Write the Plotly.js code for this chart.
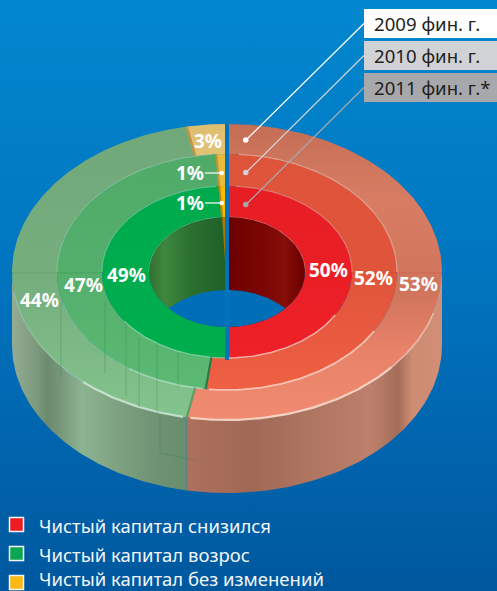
<!DOCTYPE html>
<html><head><meta charset="utf-8">
<script src="https://cdn.plot.ly/plotly-3.0.1.min.js"></script>
<style>
html,body{margin:0;padding:0;width:497px;height:591px;overflow:hidden;
background:linear-gradient(180deg,#0287CE 0%,#0178C2 40%,#0167B1 70%,#00589E 100%);}
#c{width:497px;height:591px}
</style></head><body><div id="c"></div>
<script>
// ---- data (outer ring first) ----
const years = ['2009 фин. г.', '2010 фин. г.', '2011 фин. г.*'];
const decreased = [53, 52, 50];
const increased = [44, 47, 49];
const unchanged = [3, 1, 1];
const legendLabels = ['Чистый капитал снизился', 'Чистый капитал возрос', 'Чистый капитал без изменений'];

// ---- geometry of the tilted ring ----
const CX = 227, CY = 272, DEPTH = 73;
const RX = [215, 170, 125, 78], RY = [148, 118, 86, 55];
const pt = (t, r, dy) => {
  const a = t * Math.PI / 180;
  return [CX + RX[r] * Math.sin(a), CY + dy - RY[r] * Math.cos(a)];
};
function arc(t0, t1, r, dy) {
  const n = Math.max(2, Math.ceil(Math.abs(t1 - t0)));
  const p = [];
  for (let i = 0; i <= n; i++) p.push(pt(t0 + (t1 - t0) * i / n, r, dy));
  return p;
}
const rgb = a => `rgb(${a[0]},${a[1]},${a[2]})`;
function grad(type, stops) {
  const a = stops[0][0], b = stops[stops.length - 1][0];
  return {type, start: a, stop: b,
    colorscale: stops.map(s => [(s[0] - a) / (b - a), rgb(s[1])])};
}
const traces = [];
function poly(p, gradient, color) {
  const tr = {x: p.map(q => q[0]).concat(p[0][0]), y: p.map(q => q[1]).concat(p[0][1]),
    mode: 'lines', fill: 'toself', line: {width: 0}, hoverinfo: 'skip', showlegend: false};
  if (gradient) tr.fillgradient = gradient; else tr.fillcolor = color;
  traces.push(tr);
}
function stroke(p, color, width) {
  traces.push({x: p.map(q => q[0]), y: p.map(q => q[1]), mode: 'lines',
    line: {color, width}, hoverinfo: 'skip', showlegend: false});
}
const pct = v => v * 3.6;

// ---- outer side wall ----
const redEnd0 = pct(decreased[0]);
poly(arc(90, redEnd0, 0, 0).concat(arc(redEnd0, 90, 0, DEPTH)),
  grad('horizontal', [[190, [172,112,92]], [250, [160,105,85]], [300, [172,115,95]], [370, [188,128,108]],
    [385, [176,120,100]], [398, [164,108,88]], [412, [205,140,115]], [442, [210,142,118]]]));
poly(arc(redEnd0, 270, 0, 0).concat(arc(270, redEnd0, 0, DEPTH)),
  grad('horizontal', [[12, [148,172,148]], [35, [125,155,125]], [48, [108,138,110]], [60, [118,150,122]],
    [82, [140,180,145]], [120, [125,160,128]], [160, [110,145,115]], [190, [104,140,110]]]));

// ---- top faces ----
const redFace = [
  [[124, [196,110,86]], [200, [216,125,100]], [290, [208,116,92]], [350, [232,130,105]], [420, [240,138,112]]],
  [[154, [222,84,58]], [270, [224,84,58]], [390, [238,96,68]]],
  [[186, [230,30,36]], [358, [238,32,40]]]];
const greenFace = [
  [[124, [112,168,122]], [280, [118,174,126]], [420, [132,196,142]]],
  [[154, [80,170,104]], [280, [84,176,108]], [390, [92,186,116]]],
  [[186, [0,170,76]], [358, [0,174,78]]]];
const yellowFace = [
  [[124, [222,190,112]], [155, [226,194,116]]],
  [[154, [232,186,62]], [186, [236,186,60]]],
  [[186, [250,186,0]], [220, [250,186,0]]]];

years.forEach((_, r) => {
  const a = pct(decreased[r]), b = 360 - pct(unchanged[r]);
  const ring = (t0, t1) => arc(t0, t1, r, 0).concat(arc(t1, t0, r + 1, 0));
  poly(ring(a, b), grad('vertical', greenFace[r]));
  poly(ring(0, a), grad('vertical', redFace[r]));
  poly(ring(b, 360), grad('vertical', yellowFace[r]));
});

// ---- ring separators and highlights ----
stroke(arc(4, 90, 1, 0), 'rgba(255,215,195,0.5)', 1.2);
stroke(arc(4, 90, 2, 0), 'rgba(255,200,180,0.45)', 1.1);
stroke(arc(2, 90, 3, 0), 'rgba(255,190,170,0.45)', 1.1);
stroke(arc(270, 355, 1, 0), 'rgba(210,240,215,0.4)', 1);
stroke(arc(270, 355, 2, 0), 'rgba(200,240,210,0.4)', 1);
stroke(arc(270, 356, 3, 0), 'rgba(190,235,200,0.5)', 1);
stroke(arc(92, 106, 0, 0), 'rgba(255,225,210,0.25)', 1.2);
stroke(arc(106, 130, 0, 0), 'rgba(255,225,210,0.6)', 1.6);
stroke(arc(130, pct(decreased[0]) - 1, 0, 0), 'rgba(255,225,210,0.85)', 2.2);
stroke(arc(pct(decreased[0]) + 1, 222, 0, 0), 'rgba(220,240,225,0.75)', 2.2);
stroke(arc(222, 262, 0, 0), 'rgba(215,240,220,0.35)', 1.2);
stroke(arc(120, pct(decreased[1]) - 1, 1, 0), 'rgba(255,215,200,0.8)', 1.8);
stroke(arc(pct(decreased[1]) + 1, 215, 1, 0), 'rgba(205,240,215,0.6)', 1.6);
stroke(arc(215, 255, 1, 0), 'rgba(205,240,215,0.3)', 1);
stroke(arc(120, pct(decreased[2]), 2, 0), 'rgba(255,215,205,0.75)', 1.4);
stroke(arc(180, 235, 2, 0), 'rgba(195,240,205,0.55)', 1.2);

// ---- cut edges between slices ----
stroke([pt(pct(decreased[0]), 0, 0), pt(pct(decreased[0]), 1, 0)], 'rgb(96,156,104)', 2.2);
stroke([pt(pct(decreased[1]), 1, 0), pt(pct(decreased[1]), 2, 0)], 'rgb(45,120,70)', 2.2);
stroke([pt(360 - pct(unchanged[0]), 0, 0), pt(360 - pct(unchanged[0]), 1, 0)], 'rgb(190,150,70)', 2.5);
stroke([pt(360 - pct(unchanged[1]), 1, 0), pt(360 - pct(unchanged[1]), 2, 0)], 'rgb(190,150,50)', 2);
stroke([pt(360 - pct(unchanged[2]), 2, 0), pt(360 - pct(unchanged[2]), 3, 0)], 'rgb(180,130,20)', 2);

// ---- inside wall of the hole ----
poly(arc(0, 180, 3, 0), grad('horizontal', [[227, [108,0,0]], [262, [122,6,2]], [285, [134,14,8]], [298, [116,4,2]], [306, [100,0,0]]]));
poly(arc(180, 360, 3, 0), grad('horizontal', [[148, [50,110,50]], [165, [62,135,62]], [190, [44,112,48]], [226, [30,96,38]]]));
{
  const s = pct(unchanged[2]);
  poly([pt(360 - s, 3, 0), pt(360, 3, 0), pt(360, 3, DEPTH)], null, 'rgb(172,122,4)');
}
// floor of the hole: the part of the lower ellipse that shows through the hole
{
  const c = Math.sqrt(1 - Math.pow((DEPTH / 2) / RY[3], 2));
  const tc = Math.asin(c) * 180 / Math.PI;
  poly(arc(180 - tc, 180 + tc, 3, 0).concat(arc(360 - tc, 360 + tc, 3, DEPTH)), null, 'rgb(1,110,184)');
}

// ---- legend squares ----
traces.push({x: [16.5, 16.5, 16.5], y: [524.5, 553.5, 582.5], mode: 'markers', hoverinfo: 'skip', showlegend: false,
  marker: {symbol: 'square', size: 14, color: ['#ED1C24', '#0BA64F', '#FDB913'], line: {color: '#F4F6F8', width: 1.5}}});

// ---- labels ----
const FONT = '"Noto Sans","Open Sans",sans-serif';
const ann = [];
const valueLabels = [
  [decreased[0], 418, 284], [decreased[1], 373, 278], [decreased[2], 328, 270],
  [increased[0], 39, 300], [increased[1], 83, 285], [increased[2], 126, 275],
  [unchanged[0], 208, 141], [unchanged[1], 190, 173], [unchanged[2], 190, 203]];
valueLabels.forEach(v => ann.push({x: v[1], y: v[2], text: v[0] + '%', showarrow: false, xanchor: 'center', yanchor: 'middle',
  font: {family: FONT, size: 19, color: '#fff', weight: 700}}));
const boxY = [23.5, 55.5, 87.5];
years.forEach((t, i) => ann.push({x: 372, y: boxY[i], text: t, showarrow: false, xanchor: 'left', yanchor: 'middle',
  font: {family: FONT, size: 18.6, color: '#231F20'}}));
const legY = [525, 554, 578.5];
legendLabels.forEach((t, i) => ann.push({x: 37, y: legY[i], text: t, showarrow: false, xanchor: 'left', yanchor: 'middle',
  font: {family: FONT, size: 18.5, color: '#F2F6FA'}}));

// ---- callouts, year boxes, centre gap, faint print artefacts ----
const boxFill = ['#FFFFFF', '#D1D2D6', '#A7A8AC'];
const ringMidY = [140, 172.5, 204.5];
const shapes = [];
[[61, 303, 61, 377], [105, 303, 105, 373], [126, 323, 126, 396], [139, 337, 139, 407], [157, 343, 157, 415], [178, 353, 178, 387],
 [160, 415, 160, 453], [160, 453, 195, 460]].forEach(a =>
  shapes.push({type: 'line', x0: a[0], y0: a[1], x1: a[2], y1: a[3], line: {color: 'rgba(40,120,70,0.28)', width: 1}}));
[[12, 273, 103, 273], [350, 273, 442, 273]].forEach((a, i) =>
  shapes.push({type: 'line', x0: a[0], y0: a[1], x1: a[2], y1: a[3],
    line: {color: i ? 'rgba(190,50,30,0.22)' : 'rgba(30,110,60,0.2)', width: 1}}));
shapes.push({type: 'rect', x0: 225, x1: 229, y0: 122, y1: 360, fillcolor: '#0173BC', line: {width: 0}});
years.forEach((_, i) => {
  shapes.push({type: 'rect', x0: 364, x1: 497, y0: 9 + 32 * i, y1: 38 + 32 * i, fillcolor: boxFill[i], line: {width: 0}});
  shapes.push({type: 'line', x0: 364, y0: boxY[i], x1: 246, y1: ringMidY[i], line: {color: boxFill[i], width: 1.2}});
  shapes.push({type: 'circle', x0: 243, x1: 248.5, y0: ringMidY[i] - 2.7, y1: ringMidY[i] + 2.7, fillcolor: boxFill[i], line: {width: 0}});
});
[173, 203].forEach(y => {
  shapes.push({type: 'line', x0: 205, x1: 222, y0: y, y1: y, line: {color: '#fff', width: 1.2}});
  shapes.push({type: 'circle', x0: 219.5, x1: 224, y0: y - 2.3, y1: y + 2.3, fillcolor: '#fff', line: {width: 0}});
});

Plotly.newPlot('c', traces, {
  width: 497, height: 591, margin: {l: 0, r: 0, t: 0, b: 0},
  paper_bgcolor: 'rgba(0,0,0,0)', plot_bgcolor: 'rgba(0,0,0,0)',
  showlegend: false, dragmode: false,
  xaxis: {range: [0, 497], visible: false, fixedrange: true},
  yaxis: {range: [591, 0], visible: false, fixedrange: true},
  annotations: ann, shapes
}, {staticPlot: true, displayModeBar: false});
</script></body></html>
